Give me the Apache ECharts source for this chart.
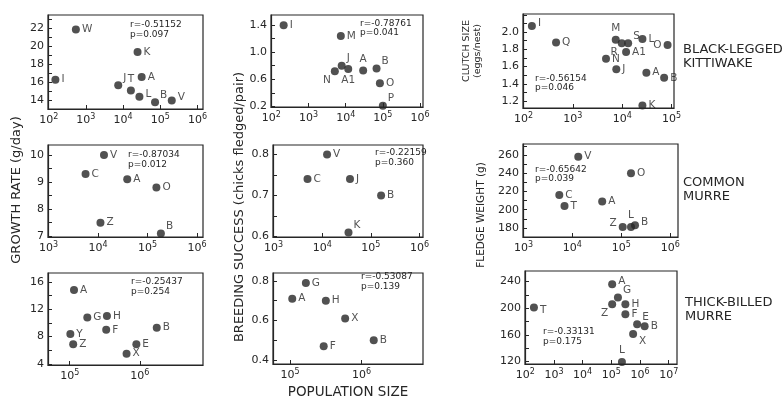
<!DOCTYPE html>
<html><head><meta charset="utf-8">
<script src="https://cdn.jsdelivr.net/npm/echarts@6/dist/echarts.min.js"></script>
<style>html,body{margin:0;padding:0;background:#fff}#c{width:783px;height:402px}</style>
</head><body><div id="c"></div>
<script>
// ---------- DATA ----------
// Black-legged kittiwake
const kitGrowthNames = ['I','W','K','A','J','T','L','B','V'];
const kitGrowthPop   = [151, 537, 24500, 31600, 7400, 16200, 27500, 72400, 204000];
const kitGrowthRate  = [16.3, 21.9, 19.4, 16.6, 15.7, 15.1, 14.4, 13.8, 14.0];

const kitBreedNames = ['I','M','N','J','A1','A','B','O','P'];
const kitBreedPop   = [214, 7400, 5100, 7800, 11700, 29500, 67600, 83200, 100000];
const kitBreedSucc  = [1.40, 1.24, 0.72, 0.80, 0.75, 0.73, 0.76, 0.54, 0.21];

const kitClutchNames = ['I','Q','M','R','S','A1','N','J','L','O','A','B','K'];
const kitClutchPop   = [148, 457, 7400, 9800, 13200, 12000, 4700, 7600, 25700, 83200, 30900, 70800, 25700];
const kitClutchSize  = [2.07, 1.88, 1.91, 1.87, 1.87, 1.77, 1.69, 1.57, 1.92, 1.85, 1.53, 1.47, 1.15];

// Common murre
const comGrowthNames = ['V','C','A','O','Z','B'];
const comGrowthPop   = [13200, 5600, 38900, 151000, 11200, 186000];
const comGrowthRate  = [10.0, 9.3, 9.1, 8.8, 7.5, 7.1];

const comBreedNames = ['V','C','J','B','K'];
const comBreedPop   = [12600, 5000, 37200, 162000, 34700];
const comBreedSucc  = [0.80, 0.74, 0.74, 0.70, 0.61];

const comFledgeNames  = ['V','O','C','T','A','Z','L','B'];
const comFledgePop    = [13200, 158000, 5400, 6900, 40700, 107000, 158000, 191000];
const comFledgeWeight = [258, 240, 216, 204, 209, 181, 181, 183];

// Thick-billed murre
const tbmGrowthNames = ['A','G','H','Y','F','Z','B','E','X'];
const tbmGrowthPop   = [115000, 178000, 339000, 102000, 331000, 112000, 1740000, 891000, 646000];
const tbmGrowthRate  = [14.8, 10.8, 11.0, 8.4, 9.0, 6.9, 9.3, 6.9, 5.5];

const tbmBreedNames = ['G','A','H','X','F','B'];
const tbmBreedPop   = [166000, 107000, 316000, 589000, 295000, 1480000];
const tbmBreedSucc  = [0.79, 0.71, 0.70, 0.61, 0.47, 0.50];

const tbmFledgeNames  = ['T','A','G','Z','H','F','E','B','X','L'];
const tbmFledgePop    = [200, 107000, 170000, 107000, 309000, 309000, 794000, 1450000, 575000, 234000];
const tbmFledgeWeight = [201, 236, 216, 206, 206, 191, 176, 173, 161, 119];

// Correlation statistics
const rValues = ['-0.51152','-0.78761','-0.56154','-0.87034','-0.22159','-0.65642','-0.25437','-0.53087','-0.33131'];
const pValues = ['0.097','0.041','0.046','0.012','0.360','0.039','0.254','0.139','0.175'];

// Tick labels
const xDecades1 = [2,3,4,5,6];
const xDecades2 = [2,3,4,5,6];
const xDecades3 = [2,3,4,5];
const xDecades4 = [3,4,5,6];
const xDecades5 = [3,4,5,6];
const xDecades6 = [3,4,5,6];
const xDecades7 = [5,6];
const xDecades8 = [5,6];
const xDecades9 = [2,3,4,5,6,7];

const yTicks1 = [14,16,18,20,22];
const yTicks2 = [0.2,0.6,1.0,1.4];
const yTicks3 = [1.2,1.4,1.6,1.8,2.0];
const yTicks4 = [7,8,9,10];
const yTicks5 = [0.6,0.7,0.8];
const yTicks6 = [180,200,220,240,260];
const yTicks7 = [4,8,12,16];
const yTicks8 = [0.4,0.6,0.8];
const yTicks9 = [120,160,200,240];

const speciesTitles = ['BLACK-LEGGED\nKITTIWAKE', 'COMMON\nMURRE', 'THICK-BILLED\nMURRE'];
const axisTitles = ['GROWTH RATE (g/day)', 'BREEDING SUCCESS (chicks fledged/pair)', 'CLUTCH SIZE', '(eggs/nest)', 'FLEDGE WEIGHT (g)', 'POPULATION SIZE'];

// ---------- LAYOUT / STYLE ----------
const FONT = '"DejaVu Sans", "Liberation Sans", sans-serif';
const INK = '#262626';

const panels = [
  {names:kitGrowthNames, pop:kitGrowthPop, vals:kitGrowthRate, xt:xDecades1, yt:yTicks1, dec:0,
   grid:[48,15,155,94], xr:[1.98,6.15], yr:[13.05,23.5], minor:1, rp:[130,25],
   lp:{J:'tr',T:'t',B:'tr',L:'ru',V:'ru'}},
  {names:kitBreedNames, pop:kitBreedPop, vals:kitBreedSucc, xt:xDecades2, yt:yTicks2, dec:1,
   grid:[271,15,152,92], xr:[1.99,6.08], yr:[0.19,1.55], minor:0.2, rp:[360,23.5],
   lp:{N:'bl',A1:'b',J:'tr',A:'t',B:'tr',P:'tr'}},
  {names:kitClutchNames, pop:kitClutchPop, vals:kitClutchSize, xt:xDecades3, yt:yTicks3, dec:1,
   grid:[523,14,151,94], xr:[1.99,5.05], yr:[1.12,2.21], minor:0.1, rp:[535,78.5],
   lp:{M:'t',R:'bl',S:'tr',O:'l',I:'ru'}},
  {names:comGrowthNames, pop:comGrowthPop, vals:comGrowthRate, xt:xDecades4, yt:yTicks4, dec:0,
   grid:[48,145,155,92], xr:[2.99,6.12], yr:[6.97,10.37], minor:0.5, rp:[128,155],
   lp:{B:'tr'}},
  {names:comBreedNames, pop:comBreedPop, vals:comBreedSucc, xt:xDecades5, yt:yTicks5, dec:1,
   grid:[273,145,150,92], xr:[2.99,6.07], yr:[0.599,0.823], minor:0.05, rp:[375,153],
   lp:{K:'tr'}},
  {names:comFledgeNames, pop:comFledgePop, vals:comFledgeWeight, xt:xDecades6, yt:yTicks6, dec:0,
   grid:[523,144,155,93], xr:[2.99,6.16], yr:[170,272], minor:10, rp:[535,169.5],
   lp:{Z:'lu',L:'t',B:'ru'}},
  {names:tbmGrowthNames, pop:tbmGrowthPop, vals:tbmGrowthRate, xt:xDecades7, yt:yTicks7, dec:0,
   grid:[48,273,155,92], xr:[4.69,6.9], yr:[3.85,17.3], minor:2, rp:[131,282],
   lp:{}},
  {names:tbmBreedNames, pop:tbmBreedPop, vals:tbmBreedSucc, xt:xDecades8, yt:yTicks8, dec:1,
   grid:[273,273,150,91], xr:[4.76,6.86], yr:[0.38,0.84], minor:0.1, rp:[361,277],
   lp:{}},
  {names:tbmFledgeNames, pop:tbmFledgePop, vals:tbmFledgeWeight, xt:xDecades9, yt:yTicks9, dec:0,
   grid:[525,271,152,93], xr:[1.99,7.29], yr:[116,256], minor:20, rp:[543,332],
   lp:{T:'rd',A:'ru',G:'tr',Z:'bl',E:'tr',X:'br',L:'t'}}
];

const posStyle = {
  r:{position:'right'},
  ru:{position:'right', offset:[0,-3]},
  rd:{position:'right', offset:[0,3]},
  tr:{position:'right', offset:[-1,-7]},
  br:{position:'right', offset:[0,7]},
  l:{position:'left'},
  lu:{position:'left', offset:[0,-4]},
  bl:{position:'left', offset:[2,9]},
  t:{position:'top'},
  b:{position:'bottom'}
};

const grids = [], xAxes = [], yAxes = [], series = [], graphics = [];

panels.forEach((p, i) => {
  grids.push({left:p.grid[0], top:p.grid[1], width:p.grid[2], height:p.grid[3],
    show:true, borderColor:INK, borderWidth:1.2, backgroundColor:'transparent'});
  xAxes.push({
    gridIndex:i, type:'value', min:p.xr[0], max:p.xr[1],
    axisLine:{show:true, onZero:false, lineStyle:{color:INK, width:1.2}},
    axisTick:{show:true, inside:true, length:4, customValues:p.xt, lineStyle:{color:INK, width:1}},
    axisLabel:{customValues:p.xt, margin:4, color:INK, fontFamily:FONT,
      formatter: v => '{b|10}{s|' + Math.round(v) + '}',
      rich:{b:{fontSize:11, fontFamily:FONT, color:INK}, s:{fontSize:8, fontFamily:FONT, color:INK, padding:[0,0,7,0]}}},
    splitLine:{show:false}
  });
  const minors = [];
  const lo = Math.ceil((p.yr[0] + 1e-9) / p.minor), hi = Math.floor((p.yr[1] - 1e-9) / p.minor);
  for (let k = lo; k <= hi; k++) minors.push(+(k * p.minor).toFixed(4));
  yAxes.push({
    gridIndex:i, type:'value', min:p.yr[0], max:p.yr[1],
    axisLine:{show:true, onZero:false, lineStyle:{color:INK, width:1.2}},
    axisTick:{show:true, inside:true, length:4, customValues:minors, lineStyle:{color:INK, width:1}},
    axisLabel:{customValues:p.yt, margin:4, color:INK, fontFamily:FONT, fontSize:11,
      formatter: v => (+v).toFixed(p.dec)},
    splitLine:{show:false}
  });
  series.push({
    type:'scatter', xAxisIndex:i, yAxisIndex:i, symbol:'circle', symbolSize:8,
    itemStyle:{color:INK},
    label:{show:true, formatter:'{b}', position:'right', distance:2, color:INK, fontSize:10.5, fontFamily:FONT},
    data: p.names.map((n, k) => ({
      name:n, value:[Math.log10(p.pop[k]), p.vals[k]],
      label: posStyle[p.lp[n] || 'r']
    }))
  });
  graphics.push({type:'text', left:p.rp[0], top:p.rp[1] - 5,
    style:{text:'r=' + rValues[i] + '\np=' + pValues[i], fill:INK, font:'9px ' + FONT, lineHeight:9.5}});
});

// species titles
[[683,57],[683,190],[685,310]].forEach((pos, i) => {
  graphics.push({type:'text', x:pos[0], y:pos[1],
    style:{text:speciesTitles[i], fill:INK, font:'13px ' + FONT, lineHeight:14, verticalAlign:'middle', align:'left'}});
});
// axis titles
graphics.push({type:'text', x:17, y:190, rotation:Math.PI/2,
  style:{text:axisTitles[0], fill:INK, font:'13px ' + FONT, align:'center', verticalAlign:'middle'}});
graphics.push({type:'text', x:240, y:207, rotation:Math.PI/2,
  style:{text:axisTitles[1], fill:INK, font:'13px ' + FONT, align:'center', verticalAlign:'middle'}});
graphics.push({type:'text', x:467, y:51, rotation:Math.PI/2,
  style:{text:axisTitles[2], fill:INK, font:'9.5px ' + FONT, align:'center', verticalAlign:'middle'}});
graphics.push({type:'text', x:478, y:51, rotation:Math.PI/2,
  style:{text:axisTitles[3], fill:INK, font:'9.5px ' + FONT, align:'center', verticalAlign:'middle'}});
graphics.push({type:'text', x:481, y:215, rotation:Math.PI/2,
  style:{text:axisTitles[4], fill:INK, font:'10.5px ' + FONT, align:'center', verticalAlign:'middle'}});
graphics.push({type:'text', x:348, y:392,
  style:{text:axisTitles[5], fill:INK, font:'13.5px ' + FONT, align:'center', verticalAlign:'middle'}});

const chart = echarts.init(document.getElementById('c'), null, {renderer:'canvas'});
chart.setOption({
  animation:false, backgroundColor:'#fff',
  grid:grids, xAxis:xAxes, yAxis:yAxes, series:series, graphic:graphics
});
</script></body></html>
